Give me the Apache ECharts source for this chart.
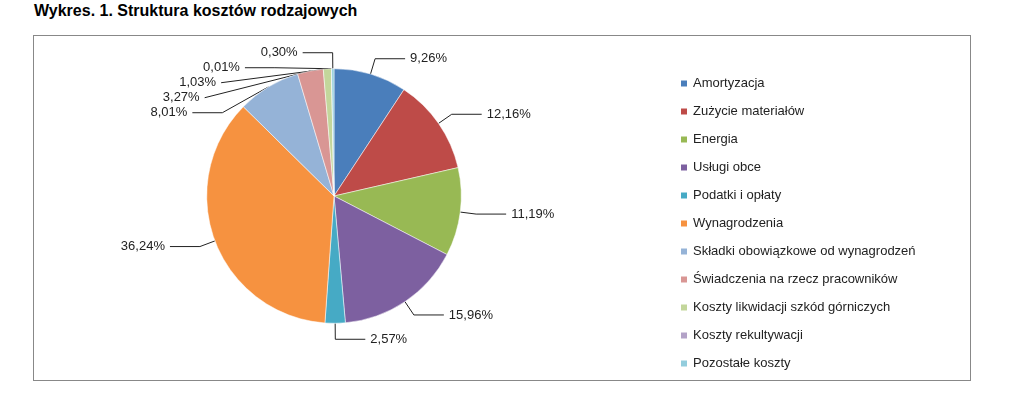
<!DOCTYPE html>
<html><head><meta charset="utf-8">
<script src="https://cdn.jsdelivr.net/npm/echarts@6/dist/echarts.min.js"></script>
<style>
body{margin:0;background:#fff;font-family:Arial,"Liberation Sans",sans-serif}
#title{position:absolute;left:34px;top:2px;font-weight:bold;font-size:16px;color:#000}
#box{position:absolute;left:33px;top:35px;width:936px;height:344px;border:1px solid #888}
#main{width:936px;height:344px}
</style></head>
<body>
<div id="title">Wykres. 1. Struktura kosztów rodzajowych</div>
<div id="box"><div id="main"></div></div>
<script>
var categories = ["Amortyzacja", "Zużycie materiałów", "Energia", "Usługi obce", "Podatki i opłaty",
  "Wynagrodzenia", "Składki obowiązkowe od wynagrodzeń", "Świadczenia na rzecz pracowników",
  "Koszty likwidacji szkód górniczych", "Koszty rekultywacji", "Pozostałe koszty"];
var values = [9.26, 12.16, 11.19, 15.96, 2.57, 36.24, 8.01, 3.27, 1.03, 0.01, 0.30];
var colors = ["#4a7ebb", "#be4b48", "#98b954", "#7d60a0", "#46aac5", "#f69240",
  "#95b3d7", "#d99694", "#c3d69b", "#b3a2c7", "#93cddd"];

var myChart = echarts.init(document.getElementById('main'));
var option = {
    color: colors,
    legend: {
        orient: 'vertical', left: 640, top: 36, itemGap: 15,
        itemWidth: 8, itemHeight: 8, icon: 'rect',
        textStyle: {fontSize: 13, color: '#222', fontFamily: 'Liberation Sans'},
        data: categories
    },
    series: [{
        type: 'pie',
        center: [300, 160],
        radius: '74%',
        startAngle: 90,
        clockwise: true,
        avoidLabelOverlap: true,
        itemStyle: {borderColor: '#fff', borderWidth: 0.5},
        label: {
            fontSize: 13, color: '#222', fontFamily: 'Liberation Sans',
            formatter: function (p) { return p.value.toFixed(2).replace('.', ',') + '%'; }
        },
        labelLine: {length: 16, length2: 30, lineStyle: {color: '#222'}},
        data: categories.map(function (c, i) { return {name: c, value: values[i]}; })
    }]
};
myChart.setOption(option);
</script>
</body></html>
